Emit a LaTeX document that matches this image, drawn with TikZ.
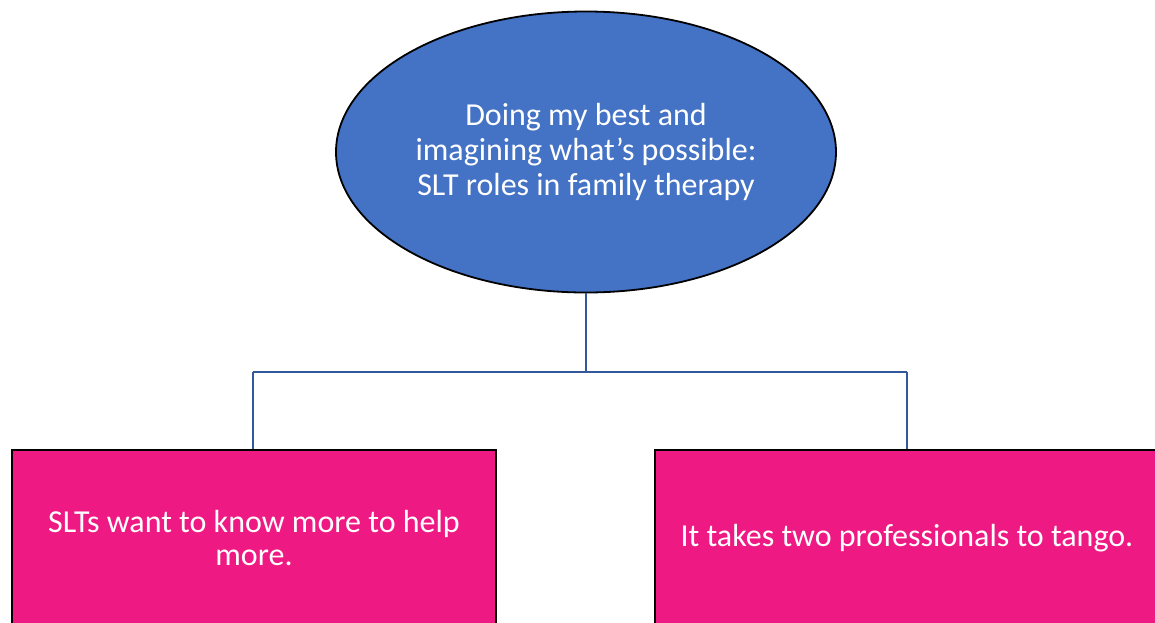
\documentclass[tikz,border=0pt]{standalone}
\usepackage{fontspec}
\setmainfont{Carlito}
\usetikzlibrary{shapes.geometric}
\definecolor{ovalblue}{RGB}{68,114,196}
\definecolor{boxpink}{RGB}{239,25,132}
\definecolor{linkblue}{RGB}{52,88,156}
\tikzset{
  topic/.style={ellipse, draw=black, line width=1.8pt, fill=ovalblue,
    text=white, minimum width=500pt, minimum height=281pt, inner sep=0pt,
    align=center, font=\fontsize{32}{35}\selectfont},
  branch/.style={rectangle, draw=black, line width=2.2pt, fill=boxpink,
    text=white, minimum width=484pt, minimum height=176pt, inner sep=0pt,
    align=center, font=\fontsize{32}{33}\selectfont},
  link/.style={draw=linkblue, line width=2.2pt}
}
\begin{document}
\begin{tikzpicture}[x=1pt, y=-1pt]
  \useasboundingbox (0,0) rectangle (1155,622);
  \clip (0,0) rectangle (1155,622);
  \node[topic] (root) at (586,152) {Doing my best and\\imagining what’s possible:\\SLT roles in family therapy};
  \coordinate (hub) at (586,372);
  \coordinate (lcorner) at (253,372);
  \coordinate (rcorner) at (907,372);
  \node[branch] (left) at (254,538) {SLTs want to know more to help\\more.};
  \node[branch, minimum width=504pt] (right) at (907,538) {It takes two professionals to tango.};
  \draw[link] (root.south) -- (hub);
  \draw[link] (lcorner) -- (rcorner);
  \draw[link] (lcorner) -- (lcorner |- left.north);
  \draw[link] (rcorner) -- (rcorner |- right.north);
\end{tikzpicture}
\end{document}
